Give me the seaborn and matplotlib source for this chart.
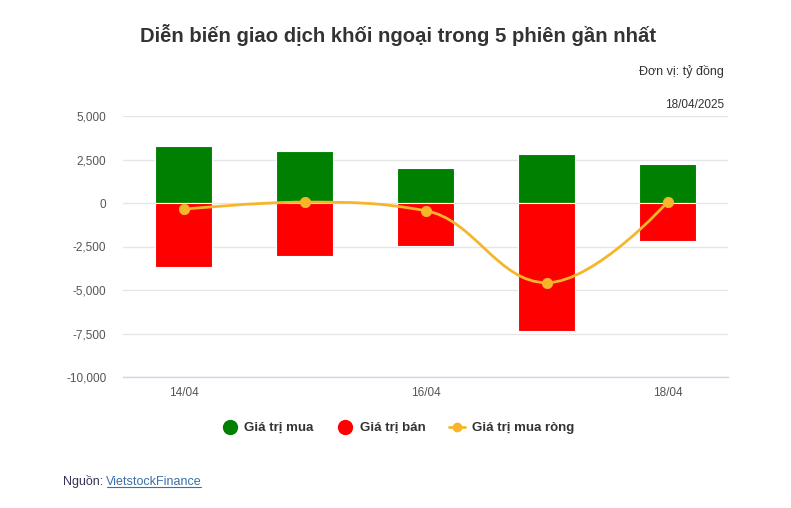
import matplotlib
matplotlib.use("Agg")
import matplotlib.pyplot as plt
from matplotlib.path import Path
from matplotlib.patches import PathPatch
from matplotlib.lines import Line2D
import seaborn as sns
import pandas as pd
import numpy as np

dates = ["14/04", "15/04", "16/04", "17/04", "18/04"]
buy = [3250, 2980, 2030, 2790, 2220]
sell = [-3700, -3050, -2480, -7360, -2210]
net = [-360, 50, -440, -4580, 50]
yticks = [5000, 2500, 0, -2500, -5000, -7500, -10000]
xtick_labels = ["14/04", "", "16/04", "", "18/04"]

GREEN = "#008000"
RED = "#ff0000"
ORANGE = "#f7b52c"
TXT = "#333333"

sns.set_theme(style="white")
plt.rcParams['font.family'] = ['Liberation Sans', 'DejaVu Sans']

fig = plt.figure(figsize=(7.91, 5.08), dpi=100)
ax = fig.add_axes([123/791, 1-377/508, (728-123)/791, (377-116)/508])

df = pd.DataFrame({"date": dates, "buy": buy, "sell": sell, "net": net})
sns.barplot(data=df, x="date", y="buy", color=GREEN, saturation=1, width=0.47,
            ax=ax, edgecolor="white", linewidth=0.8, zorder=2)
sns.barplot(data=df, x="date", y="sell", color=RED, saturation=1, width=0.47,
            ax=ax, edgecolor="white", linewidth=0.8, zorder=2)

# smooth spline (Highcharts-like bezier) through net values
xs = np.arange(len(net), dtype=float)
ys = np.array(net, dtype=float)
sm = 1.5
lc = {}
rc = {}
for i in range(1, len(xs) - 1):
    x, y = xs[i], ys[i]
    lx = (sm * x + xs[i-1]) / (sm + 1); ly = (sm * y + ys[i-1]) / (sm + 1)
    rx = (sm * x + xs[i+1]) / (sm + 1); ry = (sm * y + ys[i+1]) / (sm + 1)
    corr = (ry - ly) * (rx - x) / (rx - lx) + y - ry
    ly += corr; ry += corr
    if ly > ys[i-1] and ly > y:
        ly = max(ys[i-1], y); ry = 2 * y - ly
    elif ly < ys[i-1] and ly < y:
        ly = min(ys[i-1], y); ry = 2 * y - ly
    if ry > ys[i+1] and ry > y:
        ry = max(ys[i+1], y); ly = 2 * y - ry
    elif ry < ys[i+1] and ry < y:
        ry = min(ys[i+1], y); ly = 2 * y - ry
    lc[i] = (lx, ly); rc[i] = (rx, ry)
verts = [(xs[0], ys[0])]
codes = [Path.MOVETO]
for i in range(1, len(xs)):
    c1 = rc.get(i-1, (xs[i-1], ys[i-1]))
    c2 = lc.get(i, (xs[i], ys[i]))
    verts += [c1, c2, (xs[i], ys[i])]
    codes += [Path.CURVE4] * 3
ax.add_patch(PathPatch(Path(verts, codes), facecolor="none", edgecolor=ORANGE,
                       lw=2, zorder=3, capstyle="round"))
sns.scatterplot(data=df, x="date", y="net", color=ORANGE, s=55, ax=ax,
                edgecolor=ORANGE, zorder=4, legend=False)

ax.set_xlim(-0.5, 4.5)
ax.set_ylim(-10000, 5000)
ax.set_yticks(yticks)
ax.set_yticklabels([f"{v:,}" for v in yticks], color="#555555", fontsize=8.5)
ax.set_xticks(range(len(dates)))
ax.set_xticklabels(xtick_labels, color="#555555", fontsize=8.5)
ax.tick_params(axis="y", length=0, pad=12)
ax.tick_params(axis="x", length=0, pad=7)
ax.set_xlabel(""); ax.set_ylabel("")
ax.yaxis.grid(True, color="#e6e6e6", lw=1, zorder=0)
ax.set_axisbelow(True)
for s in ["top", "right", "left"]:
    ax.spines[s].set_visible(False)
ax.spines["bottom"].set_color("#ccd6eb")
ax.spines["bottom"].set_linewidth(1)

fig.text(398/791, 1-35/508, "Diễn biến giao dịch khối ngoại trong 5 phiên gần nhất",
         ha="center", va="center", fontsize=14.6, fontweight="bold", color=TXT)
fig.text(724/791, 1-72/508, "Đơn vị: tỷ đồng", ha="right", va="center",
         fontsize=9, color=TXT)
fig.text(724/791, 1-105/508, "18/04/2025", ha="right", va="center",
         fontsize=8.5, color=TXT)

handles = [
    Line2D([], [], ls="none", marker="o", ms=10, color=GREEN),
    Line2D([], [], ls="none", marker="o", ms=10, color=RED),
    Line2D([], [], color=ORANGE, lw=2, marker="o", ms=6),
]
fig.legend(handles, ["Giá trị mua", "Giá trị bán", "Giá trị mua ròng"],
           loc="center", bbox_to_anchor=(398/791, 1-428/508), ncol=3,
           frameon=False, handlelength=1.2, handletextpad=0.5, columnspacing=1.8,
           prop={"weight": "bold", "size": 9.5}, labelcolor=TXT)

fig.text(63/791, 1-482/508, "Nguồn: ", ha="left", va="center", fontsize=9,
         color="#333355")
src = fig.text(106/791, 1-482/508, "VietstockFinance", ha="left", va="center",
               fontsize=9, color="#3a6fa8")
fig.canvas.draw()
bb = src.get_window_extent()
fig.add_artist(Line2D([(bb.x0 + 1)/791, (bb.x1 - 1)/791], [(bb.y0 + 1)/508]*2,
                      color="#3a6fa8", lw=0.8))

fig.savefig("out.png", dpi=100, facecolor="white")
